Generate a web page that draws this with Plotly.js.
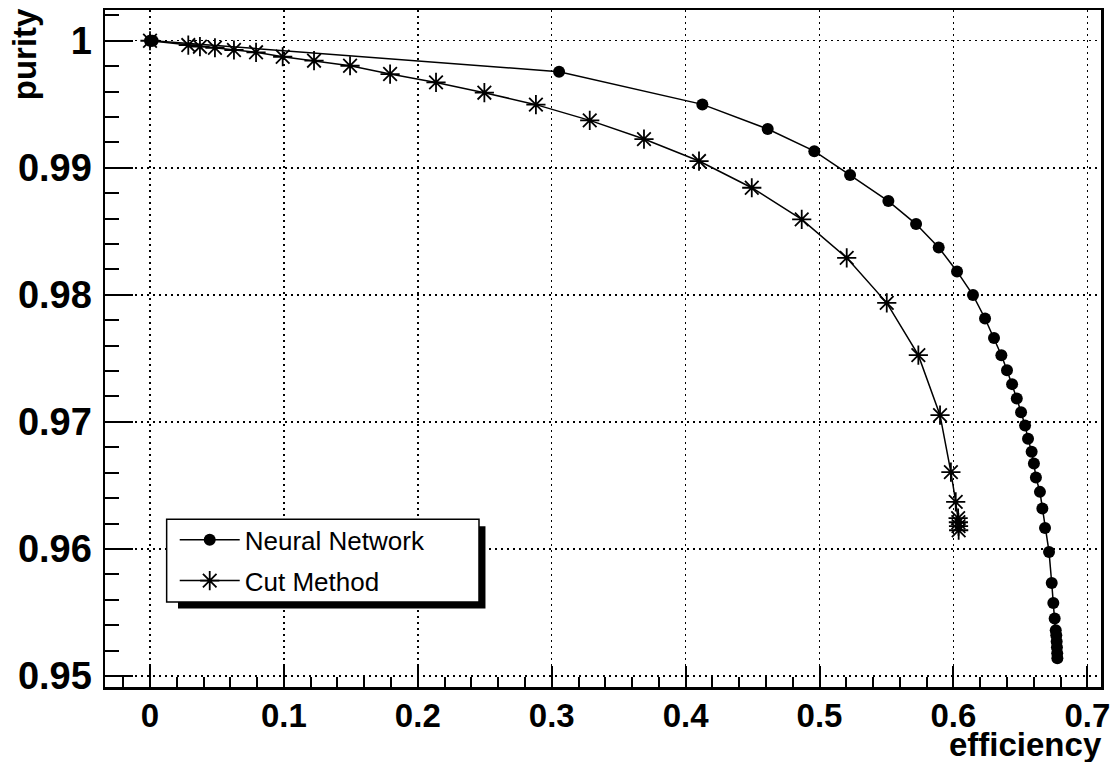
<!DOCTYPE html>
<html>
<head>
<meta charset="utf-8">
<script src="https://cdn.plot.ly/plotly-3.0.1.min.js"></script>
<style>html,body{margin:0;padding:0;background:#fff;}#chart{width:1112px;height:762px;}</style>
</head>
<body>
<div id="chart"></div>
<script>
// Neural Network (efficiency, purity)
const nnEfficiency = [0, 0.001, 0.002, 0.3055, 0.4125, 0.4613, 0.4961, 0.5228, 0.5514, 0.5721, 0.5890, 0.6027, 0.6146, 0.6236, 0.6303, 0.6358, 0.6400, 0.6438, 0.6473, 0.6505, 0.6535, 0.6557, 0.6584, 0.6601, 0.6616, 0.6646, 0.6664, 0.6684, 0.6714, 0.6734, 0.6746, 0.6756, 0.6764, 0.6768, 0.6771, 0.6773, 0.6775, 0.6776];
const nnPurity = [1, 1, 1, 0.99756, 0.99499, 0.99305, 0.99131, 0.98943, 0.98738, 0.98557, 0.98373, 0.98184, 0.97998, 0.97814, 0.97661, 0.97525, 0.97407, 0.97297, 0.97184, 0.97076, 0.96972, 0.96868, 0.96764, 0.96673, 0.96562, 0.96449, 0.96318, 0.96165, 0.95976, 0.95732, 0.95575, 0.95452, 0.95360, 0.95320, 0.95272, 0.95225, 0.95178, 0.95139];
// Cut Method (efficiency, purity)
const cutEfficiency = [0, 0.0286, 0.0373, 0.0485, 0.0627, 0.0792, 0.0991, 0.1225, 0.1494, 0.1793, 0.2136, 0.2497, 0.2882, 0.3284, 0.3689, 0.4100, 0.4494, 0.4867, 0.5203, 0.5502, 0.5738, 0.5900, 0.5981, 0.6017, 0.6035, 0.6037, 0.6038, 0.6039];
const cutPurity = [1, 0.99966, 0.99953, 0.99945, 0.99927, 0.99909, 0.99874, 0.99843, 0.99803, 0.99738, 0.99672, 0.99591, 0.99497, 0.99373, 0.99226, 0.99053, 0.98843, 0.98594, 0.98291, 0.97937, 0.97525, 0.97053, 0.96604, 0.96370, 0.96242, 0.96210, 0.96179, 0.96147];
const seriesNames = ["Neural Network", "Cut Method"];
const xTitle = "efficiency";
const yTitle = "purity";

const FONT = "Liberation Sans, Arial, Helvetica, sans-serif";

const traces = [
  {
    x: nnEfficiency, y: nnPurity, name: seriesNames[0], type: "scatter", mode: "lines+markers",
    line: {color: "#000", width: 1.5},
    marker: {symbol: "circle", size: 12, color: "#000"},
    legendgroup: "a"
  },
  {
    x: cutEfficiency, y: cutPurity, name: seriesNames[1], type: "scatter", mode: "lines+markers",
    line: {color: "#000", width: 1.5},
    marker: {symbol: "asterisk-open", size: 16, color: "#000", line: {color: "#000", width: 1.8}},
    legendgroup: "b"
  }
];

const axisCommon = {
  showline: true, mirror: true, linecolor: "#000", linewidth: 2.5,
  showgrid: true, gridcolor: "#000", gridwidth: 1.5, griddash: "2px,4px",
  zeroline: false, ticks: "inside", tickcolor: "#000", tickwidth: 2
};

const layout = {
  width: 1112, height: 762,
  margin: {l: 105, r: 11, t: 10, b: 75},
  paper_bgcolor: "#fff", plot_bgcolor: "#fff",
  showlegend: true,
  xaxis: Object.assign({}, axisCommon, {
    range: [-0.0336, 0.7102], dtick: 0.1, tick0: 0, ticklen: 21,
    minor: {dtick: 0.02, ticks: "inside", ticklen: 10, tickcolor: "#000", tickwidth: 2, showgrid: false},
    ticklabelstandoff: -2,
    tickfont: {family: FONT, size: 33, color: "#000", weight: "bold"}
  }),
  yaxis: Object.assign({}, axisCommon, {
    range: [0.94913, 1.00242], dtick: 0.01, tick0: 0.95, ticklen: 28,
    minor: {dtick: 0.002, ticks: "inside", ticklen: 14, tickcolor: "#000", tickwidth: 2, showgrid: false},
    ticklabelstandoff: 3,
    tickfont: {family: FONT, size: 38, color: "#000", weight: "bold"}
  }),
  legend: {
    x: 0.07, y: 0.252, xanchor: "left", yanchor: "top",
    bgcolor: "rgba(0,0,0,0)", borderwidth: 0,
    font: {family: FONT, size: 26, color: "#000"},
    itemwidth: 60, tracegroupgap: 4
  },
  shapes: [
    {type: "rect", xref: "paper", yref: "paper", x0: 0.0733, x1: 0.382, y0: 0.1159, y1: 0.2375,
     fillcolor: "#000", line: {width: 0}, layer: "above"},
    {type: "rect", xref: "paper", yref: "paper", x0: 0.0619, x1: 0.3755, y0: 0.1256, y1: 0.2478,
     fillcolor: "#fff", line: {color: "#000", width: 1.5}, layer: "above"}
  ],
  annotations: [
    {text: xTitle, xref: "paper", yref: "paper", x: 1.002, y: -0.113, xanchor: "right", yanchor: "bottom",
     borderpad: 0, showarrow: false, font: {family: FONT, size: 33, color: "#000", weight: "bold"}},
    {text: yTitle, xref: "paper", yref: "paper", x: -0.08, y: 1.006, xanchor: "center", yanchor: "top",
     textangle: -90, showarrow: false, font: {family: FONT, size: 33, color: "#000", weight: "bold"}}
  ]
};

Plotly.newPlot("chart", traces, layout, {staticPlot: true});
</script>
</body>
</html>
